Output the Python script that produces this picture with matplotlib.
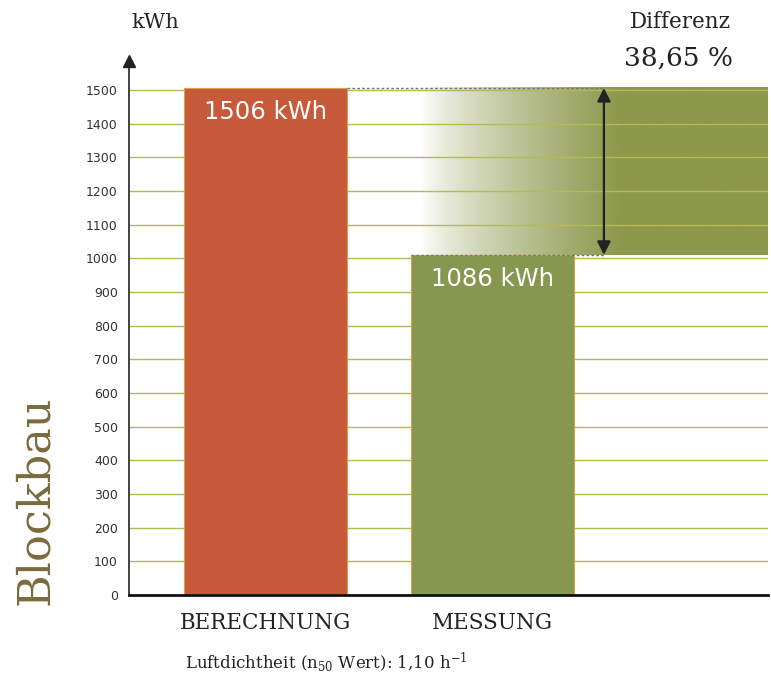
import numpy as np
import matplotlib.pyplot as plt
from matplotlib.colors import to_rgb

plt.rcParams['mathtext.fontset'] = 'dejavuserif'

categories = ['BERECHNUNG', 'MESSUNG']
bar_heights = [1506, 1010]          # heights as drawn in the picture
bar_labels = ['1506 kWh', '1086 kWh']
yticks = list(range(0, 1501, 100))
difference = '38,65 %'

red = '#c85a3c'
green = '#86974f'
olive = '#8c984c'
grid_col = '#b2bb55'

fig = plt.figure(figsize=(7.71, 6.84), dpi=100)
ax = fig.add_axes([0.1673, 0.1301, 0.8287, 0.7876])
ax.set_xlim(-0.6, 2.209)
ax.set_ylim(0, 1600)

x = np.arange(len(categories))
w = 0.7165

# gradient block showing the difference
top, low = bar_heights[0], bar_heights[1]
g_left = x[1] - w / 2
g_right = 2.209
xs = np.linspace(g_left, g_right, 400)
t = np.clip((xs - 0.69) / (1.56 - 0.69), 0, 1) ** 0.75
c0 = np.array([1, 1, 1])
c1 = np.array(to_rgb(olive))
img = (c0[None, :] * (1 - t[:, None]) + c1[None, :] * t[:, None])[None, :, :]
ax.imshow(img, extent=[g_left, g_right, low, top], aspect='auto', zorder=0.5)

# grid lines
for yv in yticks[1:]:
    ax.axhline(yv, color=grid_col, lw=1, zorder=1)

bars = ax.bar(x, bar_heights, width=w, color=[red, green], edgecolor='#d9a24a',
              linewidth=0.8, zorder=2)

for xi, h, lab in zip(x, bar_heights, bar_labels):
    ax.text(xi, h - 70, lab, color='white', fontsize=17.5, ha='center', va='center',
            family='DejaVu Sans', zorder=3)

# dashed guide lines and arrow
arrow_x = 1.488
ax.plot([x[0] + w / 2, arrow_x], [top, top], ls=(0, (2, 1.5)), color='#777777', lw=1, zorder=3)
ax.plot([x[1] - w / 2, arrow_x], [low, low], ls=(0, (2, 1.5)), color='#777777', lw=1, zorder=3)
ax.annotate('', xy=(arrow_x, top), xytext=(arrow_x, low),
            arrowprops=dict(arrowstyle='<|-|>', color='#222222', lw=1.6,
                            mutation_scale=20, shrinkA=0, shrinkB=0), zorder=4)

# axes styling
for s in ['top', 'right']:
    ax.spines[s].set_visible(False)
ax.spines['left'].set_color('#333333')
ax.spines['left'].set_linewidth(1.3)
ax.spines['left'].set_bounds(0, 1580)
ax.spines['bottom'].set_color('#111111')
ax.spines['bottom'].set_linewidth(2)
ax.plot([-0.6], [1585], marker='^', color='#222222', markersize=9, clip_on=False, zorder=5)

ax.set_yticks(yticks)
ax.set_yticklabels([str(v) for v in yticks], fontsize=9, color='#333333')
ax.tick_params(axis='y', length=0, pad=8)
ax.set_xticks(x)
ax.set_xticklabels(categories, fontsize=15.5, family='DejaVu Serif', color='#222222')
ax.tick_params(axis='x', length=0, pad=12)

fig.text(155 / 771, 1 - 22 / 684, 'kWh', fontsize=15, family='DejaVu Serif',
         ha='center', va='center', color='#222222')
fig.text(680 / 771, 1 - 22 / 684, 'Differenz', fontsize=15.5, family='DejaVu Serif',
         ha='center', va='center', color='#222222')
fig.text(678 / 771, 1 - 58 / 684, difference, fontsize=19, family='DejaVu Serif',
         ha='center', va='center', color='#222222')
fig.text(35 / 771, 1 - 500 / 684, 'Blockbau', fontsize=32, family='DejaVu Serif',
         rotation=90, ha='center', va='center', color='#7a6b3c')
fig.text(185 / 771, 1 - 662 / 684, r'Luftdichtheit (n$_{50}$ Wert): 1,10 h$^{-1}$',
         fontsize=12, family='DejaVu Serif', ha='left', va='center', color='#222222')

fig.savefig('out.png', dpi=100)
